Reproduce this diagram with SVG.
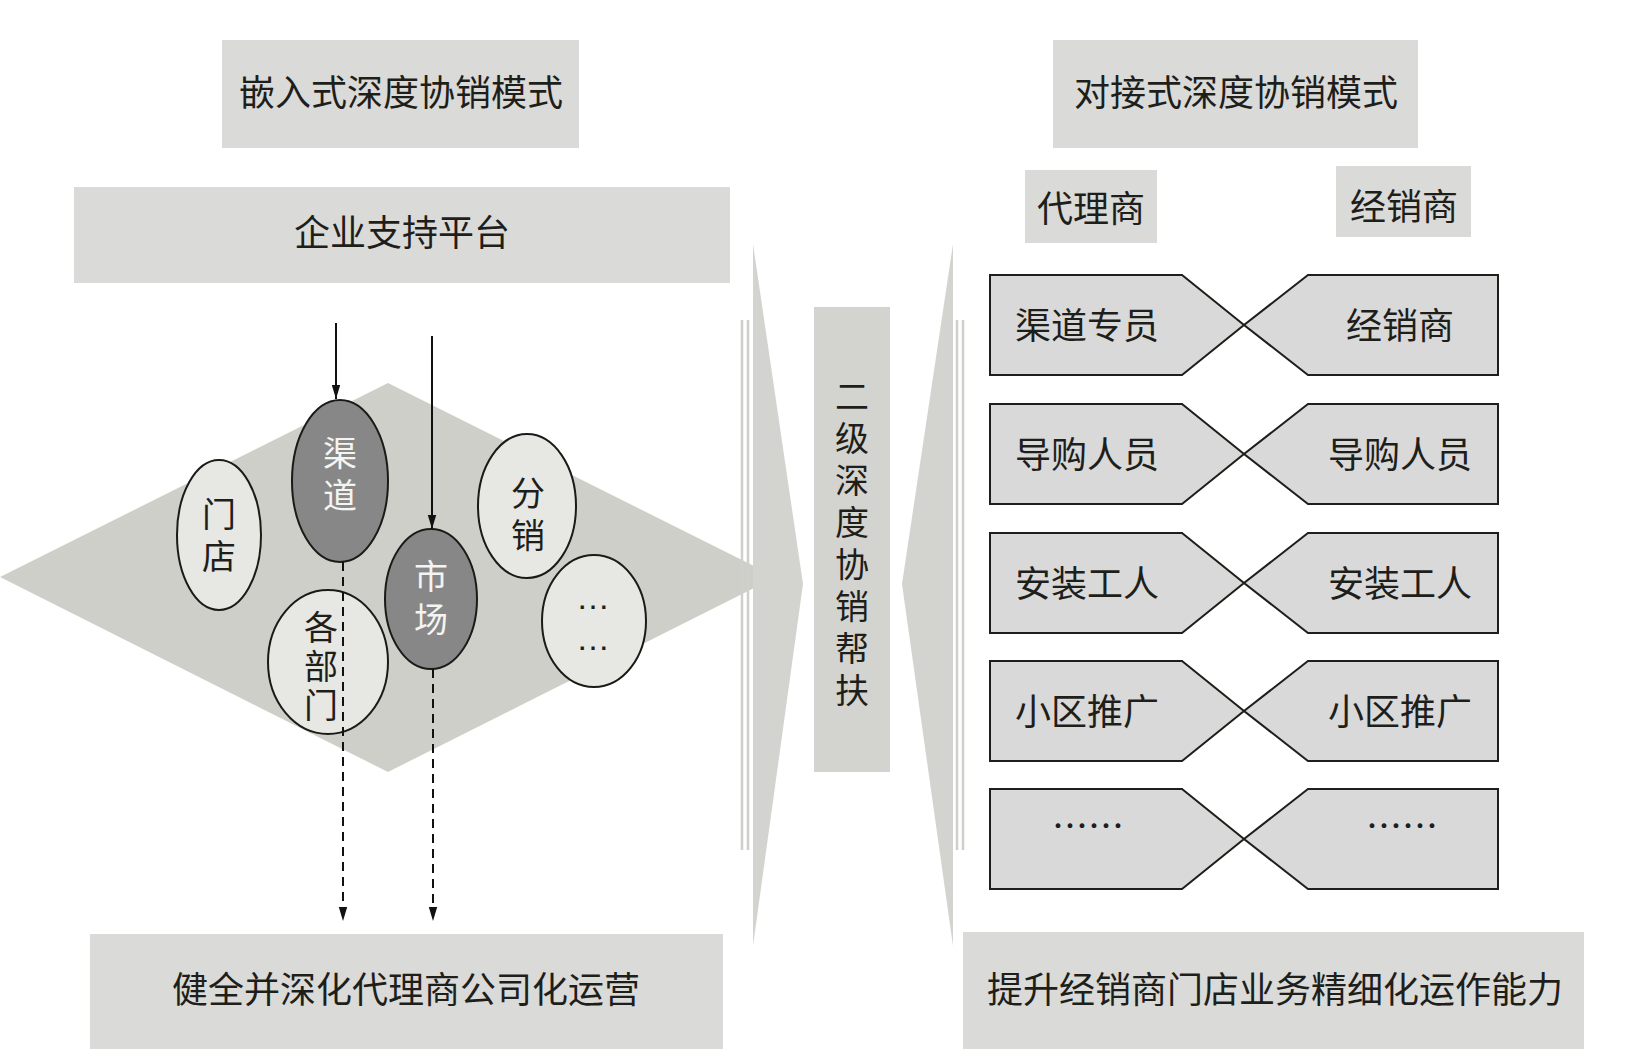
<svg xmlns="http://www.w3.org/2000/svg" width="1645" height="1057" viewBox="0 0 1645 1057">
<style>
.box{fill:#dadad9}
.t{font-family:"Noto Sans CJK SC","Noto Sans",sans-serif;font-size:36px;fill:#1e1e1a;text-anchor:middle}
.te{font-family:"Noto Sans CJK SC","Noto Sans",sans-serif;font-size:34px;fill:#1e1e1a;text-anchor:middle}
.v{writing-mode:vertical-rl;text-orientation:upright}
.tw{fill:#f4f4f2}
.el{fill:#e7e7e4;stroke:#1a1a16;stroke-width:2}
.eld{fill:#878787;stroke:#1a1a16;stroke-width:2}
.bt{fill:#d9d9d9;stroke:#1e1e1a;stroke-width:2;stroke-linejoin:miter}
.big{fill:#d3d3cf}
.dl{stroke:#cfcfcb;stroke-width:2.5;fill:none}
.ar{stroke:#111;stroke-width:2;fill:none}
.ad{stroke:#111;stroke-width:2;fill:none;stroke-dasharray:9 6}
.dots{font-family:"Liberation Sans",sans-serif;font-size:34px;fill:#1e1e1a;text-anchor:middle}
</style>
<defs>
<marker id="ah" markerUnits="userSpaceOnUse" markerWidth="14" markerHeight="22" refX="20" refY="6" orient="auto" viewBox="0 0 20 12">
<path d="M0,0 L20,6 L0,12 Z" fill="#111"/>
</marker>
</defs>

<!-- background shapes -->
<polygon id="diamond" points="0,577 388,383 776,577 388,772" fill="#cfcfca"/>
<g id="arrow-left-big">
<line class="dl" x1="742" y1="320" x2="742" y2="850"/>
<line class="dl" x1="748" y1="320" x2="748" y2="850"/>
<polygon class="big" points="753,244 803,584 753,946"/>
</g>
<g id="arrow-right-big">
<line class="dl" x1="957" y1="320" x2="957" y2="850"/>
<line class="dl" x1="963" y1="320" x2="963" y2="850"/>
<polygon class="big" points="953,244 902,584 953,946"/>
</g>

<g id="title-left"><rect class="box" x="222" y="40" width="357" height="108"/><text class="t" x="401" y="106">嵌入式深度协销模式</text></g>
<g id="platform"><rect class="box" x="74" y="187" width="656" height="96"/><text class="t" x="402" y="246">企业支持平台</text></g>
<g id="bottom-left"><rect class="box" x="90" y="934" width="633" height="115"/><text class="t" x="406" y="1003">健全并深化代理商公司化运营</text></g>

<g id="center"><rect class="big" x="814" y="307" width="76" height="465"/>
<text class="te v" x="852" y="547" font-size="33" letter-spacing="8">二级深度协销帮扶</text></g>

<g id="title-right"><rect class="box" x="1053" y="40" width="365" height="108"/><text class="t" x="1236" y="106">对接式深度协销模式</text></g>
<g id="agent"><rect class="box" x="1025" y="170" width="132" height="73"/><text class="t" x="1091" y="222">代理商</text></g>
<g id="dealer"><rect class="box" x="1336" y="166" width="135" height="71"/><text class="t" x="1404" y="220">经销商</text></g>
<g id="bottom-right"><rect class="box" x="963" y="932" width="621" height="117"/><text class="t" x="1275" y="1003">提升经销商门店业务精细化运作能力</text></g>

<!-- ellipses -->
<g id="n-mendian"><ellipse class="el" cx="219" cy="535" rx="42" ry="75"/><text class="te v" x="219" y="539" letter-spacing="8">门店</text></g>
<g id="n-qudao"><ellipse class="eld" cx="340" cy="481" rx="48" ry="81"/><text class="te v tw" x="340" y="478" letter-spacing="8">渠道</text></g>
<g id="n-bumen"><ellipse class="el" cx="328" cy="662" rx="60" ry="72"/><text class="te v" x="321" y="669" font-size="33" letter-spacing="5">各部门</text></g>
<g id="n-shichang"><ellipse class="eld" cx="431" cy="599" rx="46" ry="70"/><text class="te v tw" x="431" y="602" letter-spacing="9">市场</text></g>
<g id="n-fenxiao"><ellipse class="el" cx="527" cy="506" rx="49" ry="72"/><text class="te v" x="528" y="518" letter-spacing="8">分销</text></g>
<g id="n-more"><ellipse class="el" cx="594" cy="621" rx="52" ry="66"/><text class="dots"><tspan x="593" y="609">…</tspan><tspan x="593" y="650">…</tspan></text></g>

<!-- bowties -->
<g id="row1"><polygon class="bt" points="990,275 1182,275 1244,325 1182,375 990,375"/><polygon class="bt" points="1498,275 1308,275 1244,325 1308,375 1498,375"/><text class="t" x="1087" y="339">渠道专员</text><text class="t" x="1400" y="339">经销商</text></g>
<g id="row2"><polygon class="bt" points="990,404 1182,404 1244,454 1182,504 990,504"/><polygon class="bt" points="1498,404 1308,404 1244,454 1308,504 1498,504"/><text class="t" x="1087" y="468">导购人员</text><text class="t" x="1400" y="468">导购人员</text></g>
<g id="row3"><polygon class="bt" points="990,533 1182,533 1244,583 1182,633 990,633"/><polygon class="bt" points="1498,533 1308,533 1244,583 1308,633 1498,633"/><text class="t" x="1087" y="597">安装工人</text><text class="t" x="1400" y="597">安装工人</text></g>
<g id="row4"><polygon class="bt" points="990,661 1182,661 1244,711 1182,761 990,761"/><polygon class="bt" points="1498,661 1308,661 1244,711 1308,761 1498,761"/><text class="t" x="1087" y="725">小区推广</text><text class="t" x="1400" y="725">小区推广</text></g>
<g id="row5"><polygon class="bt" points="990,789 1182,789 1244,839 1182,889 990,889"/><polygon class="bt" points="1498,789 1308,789 1244,839 1308,889 1498,889"/><text class="t" x="1088" y="840">……</text><text class="t" x="1402" y="840">……</text></g>

<g id="connectors">
<line class="ar" x1="336" y1="323" x2="336" y2="399" marker-end="url(#ah)"/>
<line class="ar" x1="432" y1="336" x2="432" y2="529" marker-end="url(#ah)"/>
<line class="ad" x1="343" y1="562" x2="343" y2="921" marker-end="url(#ah)"/>
<line class="ad" x1="433" y1="669" x2="433" y2="921" marker-end="url(#ah)"/>
</g>
</svg>
